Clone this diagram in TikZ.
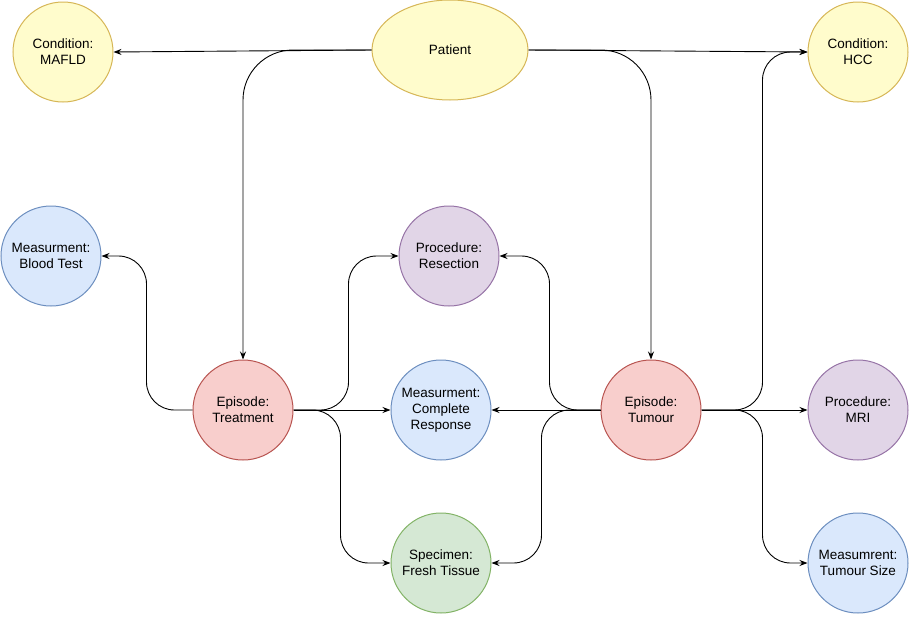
\documentclass[tikz,border=0pt]{standalone}
\usepackage{fontspec}
\setmainfont{Liberation Sans}
\usetikzlibrary{shapes.geometric,arrows.meta,calc}
\begin{document}
\begin{tikzpicture}[x=1pt,y=-1pt,
  every node/.style={font=\fontsize{13.5}{16}\selectfont,align=center,line width=1pt,inner sep=0pt},
  c/.style={circle,minimum size=100pt},
  yel/.style={fill=yellow!20!white,draw={rgb,255:red,214;green,182;blue,86}},
  blu/.style={fill={rgb,255:red,218;green,232;blue,252},draw={rgb,255:red,108;green,142;blue,191}},
  pur/.style={fill={rgb,255:red,225;green,213;blue,231},draw={rgb,255:red,150;green,115;blue,166}},
  red/.style={fill={rgb,255:red,248;green,206;blue,204},draw={rgb,255:red,184;green,84;blue,80}},
  grn/.style={fill={rgb,255:red,213;green,232;blue,212},draw={rgb,255:red,130;green,179;blue,102}},
  e/.style={draw=black,line width=0.9pt,-{Stealth[length=8pt,width=6pt]},rounded corners=28pt}]
\useasboundingbox (0,0) rectangle (910,616);
\node[c,yel] (mafld) at (63,52) {Condition:\\MAFLD};
\node[ellipse,minimum width=156pt,minimum height=100pt,yel] (pat) at (450,50) {Patient};
\node[c,yel] (hcc) at (858,52) {Condition:\\HCC};
\node[c,blu] (blood) at (51,256) {Measurment:\\Blood Test};
\node[c,pur] (res) at (449,256) {Procedure:\\Resection};
\node[c,red] (treat) at (243,410) {Episode:\\Treatment};
\node[c,blu] (comp) at (441,410) {Measurment:\\Complete\\Response};
\node[c,red] (tum) at (651,410) {Episode:\\Tumour};
\node[c,pur] (mri) at (858,410) {Procedure:\\MRI};
\node[c,grn] (fresh) at (441,563) {Specimen:\\Fresh Tissue};
\node[c,blu] (size) at (858,563) {Measumrent:\\Tumour Size};
\coordinate (pl) at (243,50);
\coordinate (pr) at (651,50);
\draw[e] (pat.west) -- (mafld.east);
\draw[e] (pat.east) -- (hcc.west);
\draw[e,rounded corners=50pt] (pat.west) -- (pl) -- (treat.north);
\draw[e,rounded corners=50pt] (pat.east) -- (pr) -- (tum.north);
\draw[e] (tum.east) -| ($(hcc.west)+(-45,0)$) -- (hcc.west);
\draw[e] (tum.west) -| ($(res.east)+(50,0)$) -- (res.east);
\draw[e] (tum.west) -- (comp.east);
\draw[e] (tum.west) -| ($(fresh.east)+(50,0)$) -- (fresh.east);
\draw[e] (tum.east) -- (mri.west);
\draw[e] (tum.east) -| ($(size.west)+(-45,0)$) -- (size.west);
\draw[e] (treat.west) -| ($(blood.east)+(45,0)$) -- (blood.east);
\draw[e] (treat.east) -| ($(res.west)+(-50,0)$) -- (res.west);
\draw[e] (treat.east) -- (comp.west);
\draw[e] (treat.east) -| ($(fresh.west)+(-50,0)$) -- (fresh.west);
\end{tikzpicture}
\end{document}
